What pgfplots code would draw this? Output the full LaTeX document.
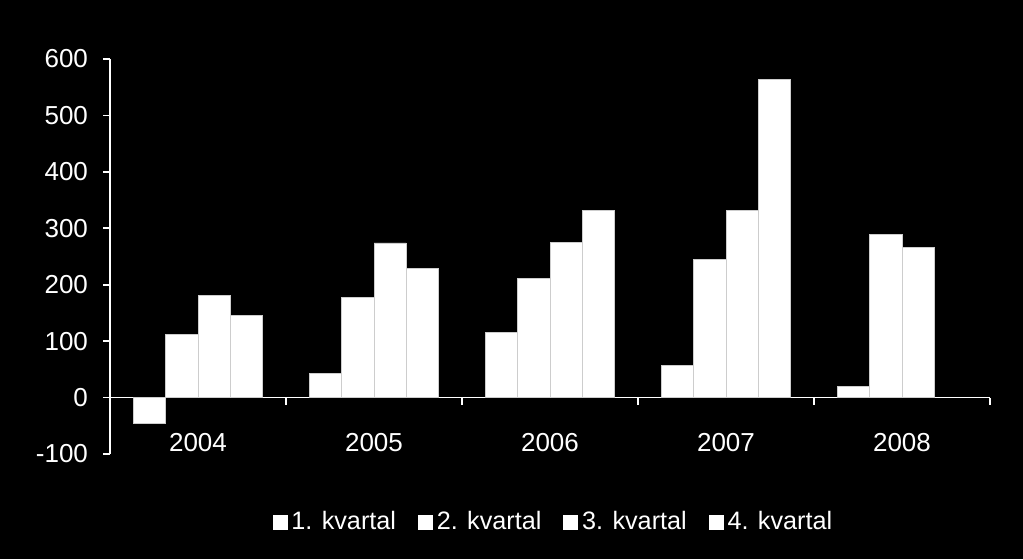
\documentclass[border=0pt]{standalone}
\usepackage{fontspec}
\setmainfont{Liberation Sans}
\usepackage{pgfplots}
\pgfplotsset{compat=1.18}
\definecolor{cSep}{RGB}{205,205,205}

\begin{document}
\begin{tikzpicture}
\path[use as bounding box, fill=black] (0,0) rectangle (511.5pt,279.5pt);
\begin{axis}[
  at={(55pt,52.5pt)}, anchor=south west,
  scale only axis, width=440pt, height=197.5pt,
  ybar=0pt, bar width=16.1pt,
  xmin=-0.5, xmax=4.5, ymin=-100, ymax=600,
  axis x line=middle, axis y line=left,
  axis line style={white, line width=0.8pt, -},
  tick style={white, line width=0.8pt},
  tick align=outside, major tick length=3.5pt,
  ytick={-100,0,...,600},
  xtick={0.5,1.5,2.5,3.5,4.5},
  xticklabels={2004,2005,2006,2007,2008},
  x tick label style={xshift=-44pt, yshift=-11pt},
  y tick label style={xshift=-4pt},
  tick label style={font=\fontsize{13}{15}\selectfont, text=white},
  /pgf/number format/assume math mode=true,
  legend columns=4,
  legend style={at={(0.505,-0.172)}, anchor=center, draw=none, fill=none,
    text=white, font=\fontsize{12.6}{15}\selectfont,
    /tikz/every even column/.append style={column sep=9pt}},
  legend image code/.code={\fill[white] (0pt,-3.5pt) rectangle (7pt,3.5pt);},
]
\addplot[fill=white, draw=cSep, line width=0.4pt] coordinates
  {(0,-46) (1,42) (2,115) (3,57) (4,19)};
\addplot[fill=white, draw=cSep, line width=0.4pt] coordinates
  {(0,112) (1,178) (2,211) (3,245) (4,289)};
\addplot[fill=white, draw=cSep, line width=0.4pt] coordinates
  {(0,181) (1,274) (2,275) (3,332) (4,266)};
\addplot[fill=white, draw=cSep, line width=0.4pt] coordinates
  {(0,145) (1,229) (2,332) (3,564)};
\legend{1. kvartal, 2. kvartal, 3. kvartal, 4. kvartal}
\end{axis}
\end{tikzpicture}
\end{document}
